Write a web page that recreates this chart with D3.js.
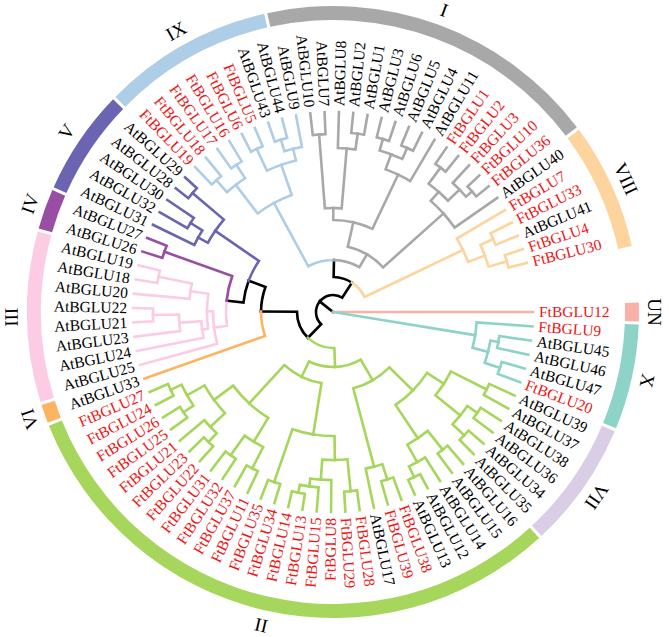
<!DOCTYPE html>
<html><head><meta charset="utf-8">
<script src="https://cdn.jsdelivr.net/npm/d3@7"></script>
<style>body{margin:0;background:#fff}</style>
</head><body>
<svg id="chart" width="669" height="637"></svg>
<script>
// ---- DATA ----
// Clade subtrees in Newick; internal label = node depth (0 root .. 100 tips) | tree-colour group
const cladeX    = "(FtBGLU9,((AtBGLU45,AtBGLU46)84,(AtBGLU47,FtBGLU20)88)80)72|X";
const cladeVIIg = "((AtBGLU39,AtBGLU37)86,((AtBGLU38,AtBGLU36)88,(AtBGLU34,AtBGLU35)90)82)66";
const cladeAt1  = "((AtBGLU16,AtBGLU15)88,(AtBGLU14,(AtBGLU12,AtBGLU13)92)86)76";
const cladeFt38 = "((FtBGLU38,FtBGLU39)88,AtBGLU17)80";
const cladeFtA  = "((FtBGLU28,FtBGLU29)90,(FtBGLU8,(FtBGLU15,(FtBGLU13,FtBGLU14)92)88)84)74";
const cladeFtB  = "(FtBGLU34,FtBGLU35)90";
const cladeFtC  = "((FtBGLU11,FtBGLU37)88,(FtBGLU32,FtBGLU31)88)76";
const cladeFtD  = "(((FtBGLU22,FtBGLU23)90,FtBGLU21)84,((FtBGLU25,FtBGLU26)90,(FtBGLU24,FtBGLU27)90)84)74";
const cladeII   = `(((${cladeVIIg},${cladeAt1})56,${cladeFt38})39.5,((${cladeFtA},${cladeFtB})62,(${cladeFtC},${cladeFtD})62)36)27.5|II`;
const cladeIII  = "(AtBGLU25,((AtBGLU24,(AtBGLU23,(AtBGLU21,AtBGLU22)90)77)66,(AtBGLU20,(AtBGLU18,AtBGLU19)89)72)63)60|III";
const cladeIV   = "(AtBGLU26,AtBGLU27)89.5|IV";
const cladeV    = "((AtBGLU31,(AtBGLU32,AtBGLU30)84)77,(AtBGLU28,AtBGLU29)92)71.5|V";
const cladeIX   = "(((FtBGLU19,FtBGLU18)88,(FtBGLU17,FtBGLU16)88)80,((FtBGLU6,FtBGLU5)90,((AtBGLU43,AtBGLU44)90,AtBGLU9)84)78)62|IX";
const cladeI    = "((((AtBGLU10,AtBGLU7)89,(AtBGLU8,(AtBGLU2,AtBGLU1)90)82)52,(((AtBGLU3,AtBGLU6)90,(AtBGLU5,AtBGLU4)90)84,AtBGLU11)76)46,(((FtBGLU1,FtBGLU2)90,(FtBGLU3,(FtBGLU10,FtBGLU36)92)88)80,AtBGLU40)74)33.5|I";
const cladeVIII = "(FtBGLU7,((FtBGLU33,AtBGLU41)88,(FtBGLU4,FtBGLU30)90.5)81)72|VIII";
const newick = `(FtBGLU12|UN,${cladeX},((${cladeII},(AtBGLU33|VI,((${cladeIII},${cladeIV})53.5,${cladeV})45)36)18,((${cladeIX},${cladeI})26,${cladeVIII})17.5)8.5)0`;

// outer ring groups
const groupNames  = ["I","VIII","UN","X","VII","II","VI","III","IV","V","IX"];
const groupFirst  = ["AtBGLU9","AtBGLU40","FtBGLU12","FtBGLU9","AtBGLU39","AtBGLU16","AtBGLU33","AtBGLU25","AtBGLU26","AtBGLU31","FtBGLU19"];
const groupLast   = ["FtBGLU36","FtBGLU30","FtBGLU12","FtBGLU20","AtBGLU35","FtBGLU27","AtBGLU33","AtBGLU19","AtBGLU27","AtBGLU29","AtBGLU44"];
const groupColors = ["#a8a8a8","#fdd49e","#f8b1a8","#8dd3c7","#dacde6","#a6d65b","#fdb462","#fbcce4","#984ea3","#6b65b1","#aecde6"];

const firstLeafAngle = 90;   // FtBGLU12 points right
const wrapGap = 14.2;        // degrees between last and first tip

// ---- LAYOUT ----
const W = 669, H = 637, cx = 333, cy = 312;
const tipR = 200, labelR = 206, ringIn = 292, ringOut = 306, groupLabelR = 322;

function parseNewick(s) {
  let i = 0;
  function node() {
    const n = {name: "", children: null};
    if (s[i] === "(") {
      n.children = []; i++;
      n.children.push(node());
      while (s[i] === ",") { i++; n.children.push(node()); }
      i++;
    }
    const j = i;
    while (i < s.length && !",()".includes(s[i])) i++;
    n.name = s.slice(j, i).trim();
    return n;
  }
  return node();
}

const colorOf = {};
groupNames.forEach((g, k) => colorOf[g] = groupColors[k]);

const root = d3.hierarchy(parseNewick(newick), d => d.children);
root.each(d => {
  const parts = d.data.name.split("|");
  d.label = d.children ? null : parts[0];
  d.dval = d.children ? +parts[0] : 100;
  d.grp = parts[1] || (d.parent ? d.parent.grp : null);
});
const nLeaves = root.leaves().length;
d3.cluster().size([nLeaves, 1]).separation(() => 1)(root);

const angle = d3.scaleLinear().domain([0.5, nLeaves - 0.5]).range([firstLeafAngle, firstLeafAngle + 360 - wrapGap]);
const radius = d3.scaleLinear().domain([0, 100]).range([0, tipR]);
const step = (360 - wrapGap) / (nLeaves - 1);
const rad = a => a * Math.PI / 180;
const polar = (r, a) => [r * Math.sin(rad(a)), -r * Math.cos(rad(a))];

const svg = d3.select("#chart");
svg.append("rect").attr("width", W).attr("height", H).attr("fill", "#fff");
const g = svg.append("g").attr("transform", `translate(${cx},${cy})`);

function linkPath(d) {
  const p = d.parent;
  const a0 = angle(p.x), a1 = angle(d.x);
  const rp = radius(p.dval), rn = radius(d.dval);
  const [x0, y0] = polar(rp, a0), [x1, y1] = polar(rp, a1), [x2, y2] = polar(rn, a1);
  let path;
  if (rp > 0 && Math.abs(a1 - a0) > 1e-6) {
    path = `M${x0},${y0}A${rp},${rp} 0 ${Math.abs(a1 - a0) > 180 ? 1 : 0} ${a1 > a0 ? 1 : 0} ${x1},${y1}`;
  } else path = `M${x1},${y1}`;
  return path + `L${x2},${y2}`;
}

const links = root.descendants().filter(d => d.parent);
links.sort((a, b) => (a.grp ? 1 : 0) - (b.grp ? 1 : 0));
g.append("g").selectAll("path").data(links).join("path")
  .attr("d", linkPath)
  .attr("fill", "none")
  .attr("stroke", d => d.grp ? colorOf[d.grp] : "#000")
  .attr("stroke-width", 2.6)
  .attr("stroke-linecap", "square");

// tip labels
const leafAngle = {};
root.leaves().forEach(d => leafAngle[d.label] = angle(d.x));
g.append("g").selectAll("text").data(root.leaves()).join("text")
  .attr("transform", d => {
    const a = angle(d.x) % 360;
    return `rotate(${a - 90}) translate(${labelR},0)` + (a > 180 ? " rotate(180)" : "");
  })
  .attr("text-anchor", d => (angle(d.x) % 360) > 180 ? "end" : "start")
  .attr("dy", "0.33em")
  .attr("font-family", "'Liberation Serif', 'Times New Roman', serif")
  .attr("font-size", 15.5)
  .attr("fill", d => d.label.startsWith("Ft") ? "#ee1515" : "#000")
  .text(d => d.label);

// outer ring
const arc = d3.arc().innerRadius(ringIn).outerRadius(ringOut);
const ringData = groupNames.map((name, k) => {
  const a0 = leafAngle[groupFirst[k]] - step / 2 + 0.3;
  const a1 = leafAngle[groupLast[k]] + step / 2 - 0.3;
  return {name, a0, a1, color: groupColors[k]};
});
g.append("g").selectAll("path").data(ringData).join("path")
  .attr("d", d => arc({startAngle: rad(d.a0), endAngle: rad(d.a1)}))
  .attr("fill", d => d.color);

g.append("g").selectAll("text").data(ringData).join("text")
  .attr("transform", d => {
    const m = (d.a0 + d.a1) / 2;
    const [x, y] = polar(groupLabelR, m);
    return `translate(${x},${y}) rotate(${m})`;
  })
  .attr("text-anchor", "middle")
  .attr("dy", "0.35em")
  .attr("font-family", "'Liberation Serif', 'Times New Roman', serif")
  .attr("font-size", 19)
  .attr("fill", "#000")
  .text(d => d.name);
</script>
</body></html>
